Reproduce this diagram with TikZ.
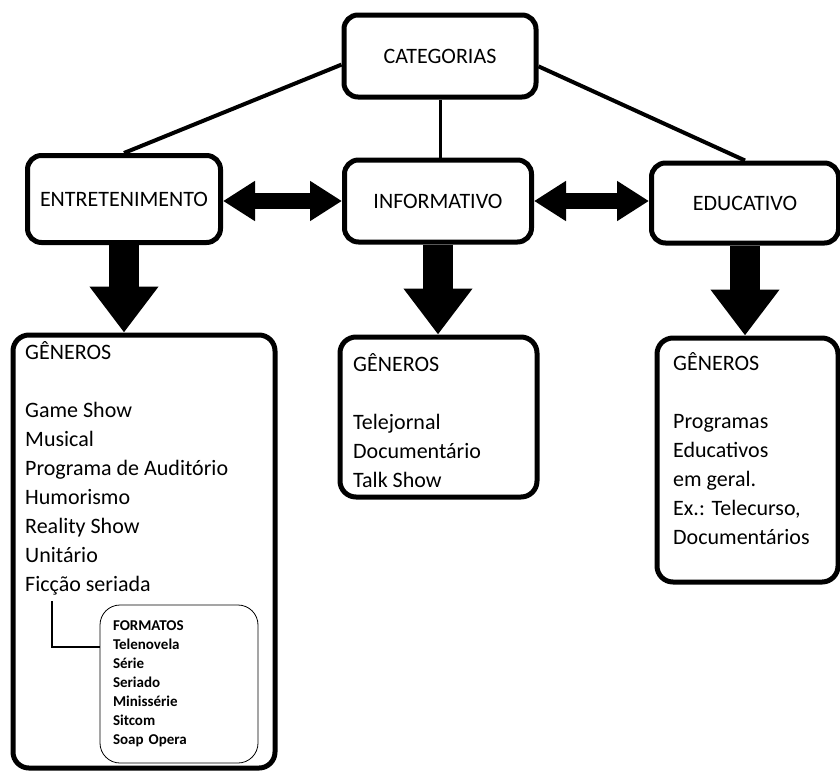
\documentclass[tikz,border=0pt]{standalone}
\usepackage{fontspec}
\setmainfont{Carlito}
\usetikzlibrary{arrows.meta}

\begin{document}
\begin{tikzpicture}[x=1pt, y=-1pt,
    topbox/.style={draw, line width=5pt, rounded corners=14pt, font=\fontsize{22}{26}\selectfont},
    genbox/.style={draw, line width=5pt, rounded corners=16pt},
    gentext/.style={align=left, anchor=base west, inner sep=0pt, font=\fontsize{22}{29}\selectfont},
    fmtbox/.style={draw, line width=0.8pt, rounded corners=20pt, inner sep=0pt, align=left, font=\fontsize{15}{19}\selectfont\bfseries},
    link/.style={line width=4pt},
    twoway/.style={line width=16pt, {Triangle[width=38pt,length=32pt]}-{Triangle[width=38pt,length=32pt]}},
    down/.style={line width=30pt, -{Triangle[width=66pt,length=46pt]}}]
    \useasboundingbox (0,0) rectangle (840,772);
    \clip (0,0) rectangle (840,772);

    \node[topbox, minimum width=192pt, minimum height=82pt] (cat) at (440,56) {CATEGORIAS};
    \node[topbox, minimum width=193pt, minimum height=87pt] (ent) at (124,199) {ENTRETENIMENTO};
    \node[topbox, minimum width=187pt, minimum height=82pt] (inf) at (438,201) {INFORMATIVO};
    \node[topbox, minimum width=187pt, minimum height=80pt] (edu) at (745,203) {EDUCATIVO};

    \draw[link] (cat.185) -- (ent.north);
    \draw[line width=3pt] (cat.south) -- (cat.south |- inf.north);
    \draw[link] (cat.-6) -- (edu.north);

    \draw[twoway] (ent.east |- inf.west) -- (inf.west);
    \draw[twoway] (inf.east) -- (edu.west |- inf.east);

    % generos
    \node[genbox, minimum width=262pt, minimum height=433pt] (entgen) at (144,551.5) {};
    \node[genbox, minimum width=197pt, minimum height=160pt] (infgen) at (438.5,417) {};
    \node[genbox, minimum width=181pt, minimum height=244pt] (edugen) at (747.5,460) {};

    \draw[down] (ent.south) -- (ent.south |- entgen.north);
    \draw[down] (inf.south) -- (inf.south |- infgen.north);
    \draw[down] (edu.south) -- (edu.south |- edugen.north);

    % base = last line
    \node[gentext] (entlist) at (25,591) {GÊNEROS\\[29pt]Game Show\\Musical\\Programa de Auditório\\Humorismo\\Reality Show\\Unitário\\Ficção seriada};
    \node[gentext] (inflist) at (353,487) {GÊNEROS\\[29pt]Telejornal\\Documentário\\Talk Show};
    \node[gentext] (edulist) at (673,544) {GÊNEROS\\[29pt]Programas\\Educativos\\em geral.\\Ex.: Telecurso,\\Documentários};

    \node[fmtbox, minimum width=158pt, minimum height=158pt, text width=132pt] (fmt) at (179,684)
        {FORMATOS\\Telenovela\\Série\\Seriado\\Minissérie\\Sitcom\\Soap Opera};
    \coordinate (fic) at (52,601);
    \draw[line width=1.2pt] (fic) |- (fmt.155);
\end{tikzpicture}
\end{document}
